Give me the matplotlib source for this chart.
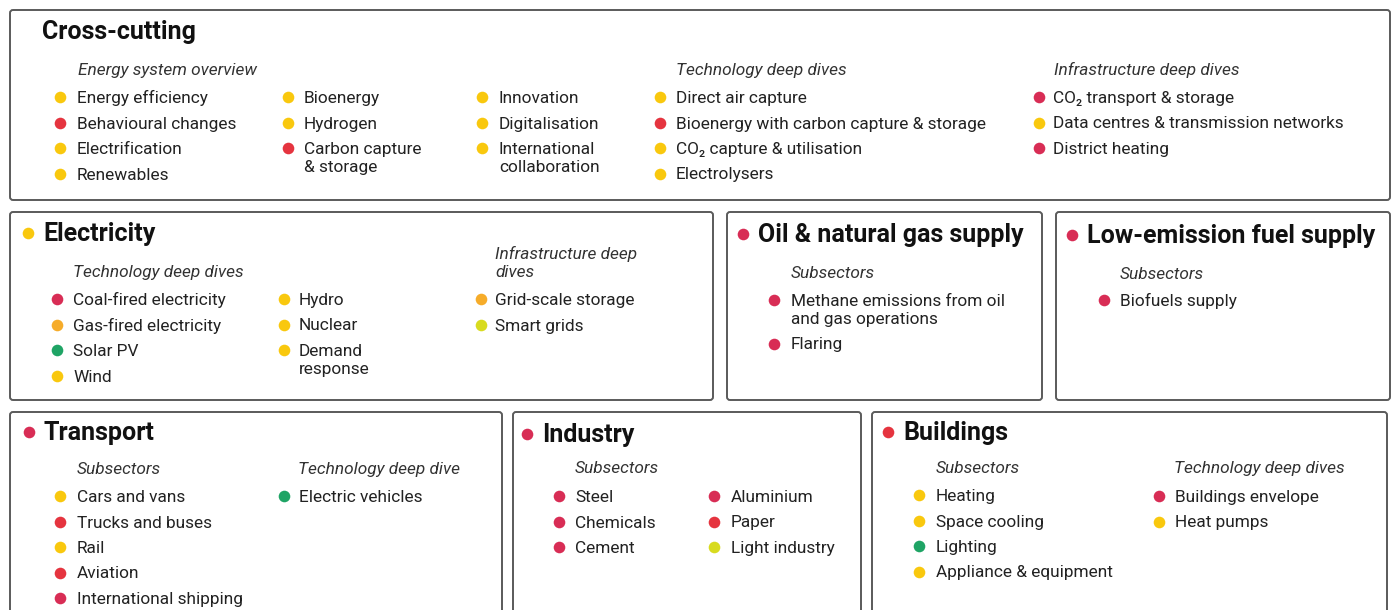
import matplotlib.pyplot as plt
from matplotlib.patches import FancyBboxPatch

plt.rcParams['font.family'] = ['Roboto', 'DejaVu Sans']

# status colours
Y = '#F9C80E'   # yellow
O = '#F6AC2A'   # orange
R = '#E5343F'   # red
P = '#D82D55'   # crimson
G = '#1FA465'   # green
L = '#D8DB1F'   # lime

# ---- data ----
cc_overview_1 = ['Energy efficiency', 'Behavioural changes', 'Electrification', 'Renewables']
cc_overview_1_c = [Y, R, Y, Y]
cc_overview_2 = ['Bioenergy', 'Hydrogen', 'Carbon capture\n& storage']
cc_overview_2_c = [Y, Y, R]
cc_overview_3 = ['Innovation', 'Digitalisation', 'International\ncollaboration']
cc_overview_3_c = [Y, Y, Y]
cc_tech = ['Direct air capture', 'Bioenergy with carbon capture & storage',
           'CO₂ capture & utilisation', 'Electrolysers']
cc_tech_c = [Y, R, Y, Y]
cc_infra = ['CO₂ transport & storage', 'Data centres & transmission networks', 'District heating']
cc_infra_c = [P, Y, P]

elec_tech_1 = ['Coal-fired electricity', 'Gas-fired electricity', 'Solar PV', 'Wind']
elec_tech_1_c = [P, O, G, Y]
elec_tech_2 = ['Hydro', 'Nuclear', 'Demand\nresponse']
elec_tech_2_c = [Y, Y, Y]
elec_infra = ['Grid-scale storage', 'Smart grids']
elec_infra_c = [O, L]

oil_sub = ['Methane emissions from oil\nand gas operations', 'Flaring']
oil_sub_c = [P, P]
lowfuel_sub = ['Biofuels supply']
lowfuel_sub_c = [P]

transport_sub = ['Cars and vans', 'Trucks and buses', 'Rail', 'Aviation', 'International shipping']
transport_sub_c = [Y, R, Y, R, P]
transport_tech = ['Electric vehicles']
transport_tech_c = [G]

industry_sub_1 = ['Steel', 'Chemicals', 'Cement']
industry_sub_1_c = [P, P, P]
industry_sub_2 = ['Aluminium', 'Paper', 'Light industry']
industry_sub_2_c = [P, R, L]

buildings_sub = ['Heating', 'Space cooling', 'Lighting', 'Appliance & equipment']
buildings_sub_c = [Y, Y, G, Y]
buildings_tech = ['Buildings envelope', 'Heat pumps']
buildings_tech_c = [P, Y]

section_titles = ['Cross-cutting', 'Electricity', 'Oil & natural gas supply',
                  'Low-emission fuel supply', 'Transport', 'Industry', 'Buildings']
section_colors = [None, Y, P, P, P, P, R]

# ---- drawing ----
W, H = 1395, 610
fig = plt.figure(figsize=(13.95, 6.10), dpi=100)
ax = fig.add_axes([0, 0, 1, 1])
ax.set_xlim(0, W)
ax.set_ylim(H, 0)
ax.axis('off')

ROW = 25.5
LINE = 18
ITEM_FS = 12.4
HEAD_FS = 12.4
TITLE_FS = 18
DOT = 70
LS = 1.23


def box(x0, y0, x1, y1):
    p = FancyBboxPatch((x0, y0), x1 - x0, y1 - y0, boxstyle='round,pad=0,rounding_size=3',
                       fc='white', ec='#5a5a5a', lw=1.4, zorder=1)
    ax.add_patch(p)


def title(x, y, text, color):
    if color is not None:
        ax.scatter([x - 15], [y - 1], s=DOT, color=color, zorder=3, lw=0)
    ax.text(x, y + 7, text, fontsize=TITLE_FS, fontweight='bold', va='baseline', ha='left',
            color='#111111', zorder=3)


def header(x, y, text):
    # y is the centre of the first line
    nlines = text.count('\n') + 1
    ax.text(x, y + 5 + LINE * (nlines - 1), text, fontsize=HEAD_FS, style='italic',
            va='baseline', ha='left', color='#333333', linespacing=LS, zorder=3)


def column_items(xd, xt, y, items, colors):
    # first line of each label is centred on its dot
    for name, c in zip(items, colors):
        nlines = name.count('\n') + 1
        ax.scatter([xd], [y], s=DOT, color=c, zorder=3, lw=0)
        ax.text(xt, y + 6 + LINE * (nlines - 1), name, fontsize=ITEM_FS, va='baseline',
                ha='left', color='#222222', linespacing=LS, zorder=3)
        y += ROW + LINE * (nlines - 1)


# Cross-cutting
box(10, 10, 1390, 200)
title(42, 32, section_titles[0], section_colors[0])
header(78, 70, 'Energy system overview')
column_items(60, 77, 97, cc_overview_1, cc_overview_1_c)
column_items(288, 304, 97, cc_overview_2, cc_overview_2_c)
column_items(482, 499, 97, cc_overview_3, cc_overview_3_c)
header(676, 70, 'Technology deep dives')
column_items(660, 676, 97, cc_tech, cc_tech_c)
header(1054, 70, 'Infrastructure deep dives')
column_items(1039, 1053, 97, cc_infra, cc_infra_c)

# Electricity
box(10, 212, 713, 400)
title(43, 234, section_titles[1], section_colors[1])
header(73, 272, 'Technology deep dives')
column_items(57, 73, 299, elec_tech_1, elec_tech_1_c)
column_items(284, 299, 299, elec_tech_2, elec_tech_2_c)
header(495, 254, 'Infrastructure deep\ndives')
column_items(481, 495, 299, elec_infra, elec_infra_c)

# Oil & natural gas supply
box(727, 212, 1042, 400)
title(758, 235, section_titles[2], section_colors[2])
header(791, 273, 'Subsectors')
column_items(774, 791, 300, oil_sub, oil_sub_c)

# Low-emission fuel supply
box(1056, 212, 1390, 400)
title(1087, 236, section_titles[3], section_colors[3])
header(1120, 274, 'Subsectors')
column_items(1104, 1120, 300, lowfuel_sub, lowfuel_sub_c)

# Transport
box(10, 412, 502, 625)
title(44, 433, section_titles[4], section_colors[4])
header(77, 469, 'Subsectors')
column_items(60, 77, 496, transport_sub, transport_sub_c)
header(298, 469, 'Technology deep dive')
column_items(284, 299, 496, transport_tech, transport_tech_c)

# Industry
box(513, 412, 861, 625)
title(542, 435, section_titles[5], section_colors[5])
header(575, 468, 'Subsectors')
column_items(559, 575, 496, industry_sub_1, industry_sub_1_c)
column_items(714, 731, 496, industry_sub_2, industry_sub_2_c)

# Buildings
box(872, 412, 1387, 625)
title(903, 433, section_titles[6], section_colors[6])
header(936, 468, 'Subsectors')
column_items(919, 936, 495, buildings_sub, buildings_sub_c)
header(1174, 468, 'Technology deep dives')
column_items(1159, 1175, 496, buildings_tech, buildings_tech_c)

fig.savefig('out.png', dpi=100, facecolor='white')
